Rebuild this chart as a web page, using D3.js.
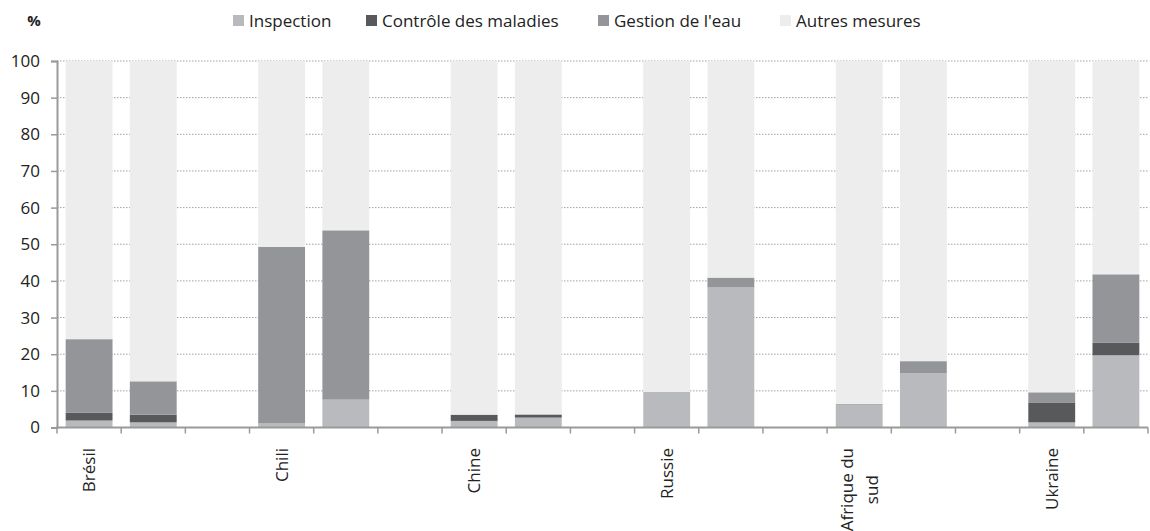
<!DOCTYPE html>
<html>
<head>
<meta charset="utf-8">
<script src="https://cdn.jsdelivr.net/npm/d3@7"></script>
<style>
  html, body { margin: 0; padding: 0; background: #fff; }
  svg { display: block; font-family: "Open Sans", "Noto Sans", sans-serif; }
</style>
</head>
<body>
<svg id="chart" width="1150" height="531"></svg>
<script>
// ---- Data ----
const countries = ["Brésil", "Chili", "Chine", "Russie", "Afrique du sud", "Ukraine"];
const yTicks = [0, 10, 20, 30, 40, 50, 60, 70, 80, 90, 100];
const seriesNames = ["Inspection", "Contrôle des maladies", "Gestion de l'eau", "Autres mesures"];
// two bars per country (in order)
const inspection = [1.9, 1.4, 1.1, 7.6, 1.8, 2.7, 9.7, 38.2, 6.2, 14.8, 1.4, 19.7];
const controle   = [2.1, 2.1, 0.0, 0.0, 1.7, 0.8, 0.0, 0.0, 0.0, 0.0, 5.3, 3.4];
const gestion    = [20.1, 9.1, 48.2, 46.2, 0.0, 0.1, 0.0, 2.7, 0.2, 3.3, 2.9, 18.7];
const autres     = [75.9, 87.4, 50.7, 46.2, 96.5, 96.4, 90.3, 59.1, 93.6, 81.9, 90.4, 58.2];
const colors = ["#b9babd", "#58595b", "#939598", "#ededed"];

(function () {
// ---- Layout ----
const svg = d3.select("#chart");
const mLeft = 57, mRight = 1148, mTop = 61, mBottom = 427.5;
const fs = 17;

// slots: bar a, bar b, gap (no gap after last)
const slots = [];
countries.forEach((c, i) => {
  slots.push({key: i + "a", label: c, bar: i * 2});
  slots.push({key: i + "b", label: "", bar: i * 2 + 1});
  if (i < countries.length - 1) slots.push({key: i + "g", label: "", bar: null});
});

const x = d3.scaleBand().domain(slots.map(s => s.key)).range([mLeft, mRight])
  .paddingInner(0.27).paddingOuter(0.135);
const y = d3.scaleLinear().domain([0, 100]).range([mBottom, mTop]);

// gridlines
svg.append("g").selectAll("line").data(yTicks.filter(t => t > 0)).join("line")
  .attr("x1", mLeft).attr("x2", mRight)
  .attr("y1", d => y(d)).attr("y2", d => y(d))
  .attr("stroke", "#a0a0a0").attr("stroke-width", 1)
  .attr("stroke-dasharray", "1.5,1.5");

// stacked bars
const barRows = inspection.map((v, i) => ({i, vals: [v, controle[i], gestion[i], autres[i]]}));
const stackKeys = [0, 1, 2, 3];
const stacked = d3.stack().keys(stackKeys).value((d, k) => d.vals[k])(barRows);
const keyForBar = {};
slots.forEach(s => { if (s.bar !== null) keyForBar[s.bar] = s.key; });

const gBars = svg.append("g");
stacked.forEach((layer, li) => {
  gBars.append("g").attr("fill", colors[li])
    .selectAll("rect").data(layer).join("rect")
    .attr("x", d => x(keyForBar[d.data.i]))
    .attr("width", x.bandwidth())
    .attr("y", d => y(d[1]))
    .attr("height", d => Math.max(0, y(d[0]) - y(d[1])));
});

// y axis
const yAxis = d3.axisLeft(y).tickValues(yTicks).tickSize(6).tickPadding(11);
const gy = svg.append("g").attr("transform", `translate(${mLeft},0)`).call(yAxis);
gy.select(".domain").attr("stroke", "#9a9a9a").attr("stroke-width", 2);
gy.selectAll(".tick line").attr("stroke", "#9a9a9a").attr("stroke-width", 1.5);
gy.selectAll(".tick text").attr("font-size", fs).attr("fill", "#222")
  .attr("font-family", "Open Sans, sans-serif");

// x axis line + boundary ticks
const step = x.step();
const boundaries = d3.range(slots.length + 1).map(k => mLeft + k * step);
svg.append("line").attr("x1", mLeft - 1).attr("x2", mRight)
  .attr("y1", mBottom).attr("y2", mBottom)
  .attr("stroke", "#9a9a9a").attr("stroke-width", 2);
svg.append("g").selectAll("line").data(boundaries).join("line")
  .attr("x1", d => d).attr("x2", d => d)
  .attr("y1", mBottom).attr("y2", mBottom + 6)
  .attr("stroke", "#9a9a9a").attr("stroke-width", 1.5);

// x labels (rotated)
const labelTop = 448;
slots.filter(s => s.label).forEach(s => {
  const cx = x(s.key) + x.bandwidth() / 2;
  const g = svg.append("g").attr("transform", `translate(${cx},${labelTop}) rotate(-90)`);
  const lines = s.label === "Afrique du sud" ? ["Afrique du", "sud"] : [s.label];
  const t = g.append("text").attr("font-size", fs).attr("fill", "#222")
    .attr("text-anchor", "middle");
  const lh = 25;
  lines.forEach((ln, k) => {
    t.append("tspan").attr("x", 0)
      .attr("y", (k - (lines.length - 1) / 2) * lh)
      .attr("dy", "0.35em").text(ln);
  });
  const w = d3.max(t.selectAll("tspan").nodes(), n => n.getComputedTextLength());
  t.selectAll("tspan").attr("x", -w / 2);
});

// "%" label
svg.append("text").attr("x", 34).attr("y", 26).attr("text-anchor", "middle")
  .attr("font-size", 15).attr("font-weight", "bold").attr("fill", "#222").text("%");

// legend
const legendX = [233, 366, 598, 780];
const lg = svg.append("g");
seriesNames.forEach((n, i) => {
  lg.append("rect").attr("x", legendX[i]).attr("y", 15).attr("width", 11).attr("height", 11)
    .attr("fill", colors[i]);
  lg.append("text").attr("x", legendX[i] + 16).attr("y", 21).attr("dy", "0.35em")
    .attr("font-size", fs).attr("fill", "#222").text(n);
});
})();
</script>
</body>
</html>
